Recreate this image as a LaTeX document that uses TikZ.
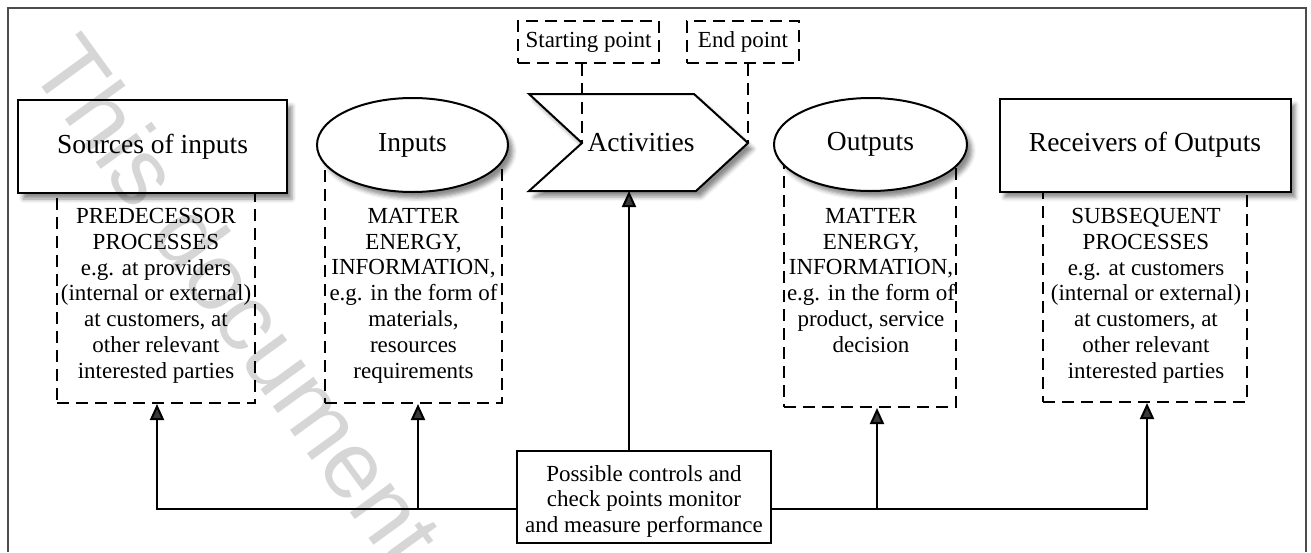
\documentclass[tikz,border=0pt]{standalone}
\usepackage{fontspec}
\setmainfont{Liberation Serif}
\newfontfamily\wmfont{Liberation Sans}
\usetikzlibrary{shapes.geometric,arrows.meta,shadows.blur}

\begin{document}
\begin{tikzpicture}[x=1pt,y=-1pt,
  every node/.style={inner sep=0pt, font=\fontsize{23}{25.8}\selectfont},
  bigfont/.style={font=\fontsize{27.5}{31}\selectfont},
  soft/.style={blur shadow={shadow xshift=5pt, shadow yshift=-6pt,
      shadow blur radius=4pt, shadow opacity=45}},
  solidbox/.style={draw, line width=2pt, fill=white, rectangle, bigfont, soft},
  oval/.style={draw, line width=2pt, fill=white, ellipse, bigfont, soft},
  dashbox/.style={draw, line width=2pt, dash pattern=on 12pt off 7pt, rectangle},
  tag/.style={dashbox, fill=white},
  listtext/.style={align=center, anchor=north},
  link/.style={line width=2pt},
  arr/.style={link, -{Triangle[length=16pt,width=14pt]}},
  guide/.style={line width=2pt, dash pattern=on 12pt off 7pt}
]
\useasboundingbox (0,0) rectangle (1311,552);

% outer frame (open at the bottom)
\draw[line width=1.4pt, black!70] (8,552) -- (8,8) -- (1306,8) -- (1306,552);

% dashed detail boxes (their tops sit under the shapes)
\node[dashbox, minimum width=198pt, minimum height=218pt] (srcd) at (156,294) {};
\node[dashbox, minimum width=177pt, minimum height=253pt] (inpd) at (413.5,276.5) {};
\node[dashbox, minimum width=172pt, minimum height=257pt] (outd) at (870,278.5) {};
\node[dashbox, minimum width=204pt, minimum height=217pt] (recd) at (1145,293.5) {};

% main shapes
\node[solidbox, minimum width=269pt, minimum height=93pt] (src) at (152.5,146.5) {Sources of inputs};
\node[oval, minimum width=191pt, minimum height=94pt] (inp) at (412.5,145) {Inputs};
\node[oval, minimum width=193pt, minimum height=93pt] (out) at (870.5,144.5) {Outputs};
\node[solidbox, minimum width=291pt, minimum height=93pt] (rec) at (1145,145) {Receivers of Outputs};

% activities chevron
\coordinate (notch) at (582,143);
\coordinate (tip) at (748,143);
\coordinate (actbot) at (629,191);
\path[draw, line width=2pt, fill=white, soft, line join=miter]
  (529,94) -- (694,94) -- (tip) -- (696,191) -- (529,191) -- (notch) -- cycle;
\node[bigfont] (act) at (641,143) {Activities};

% start / end markers
\node[tag, minimum width=141pt, minimum height=42pt] (startp) at (588.5,42) {Starting point};
\node[tag, minimum width=112pt, minimum height=42pt] (endp) at (743,42) {End point};
\draw[guide] (startp.south -| notch) -- (notch);
\draw[guide] (endp.south -| tip) -- (tip);

% texts of the detail boxes
\node[listtext] (srct) at (156,208) {PREDECESSOR\\PROCESSES\\e.g. at providers\\(internal or external)\\at customers, at\\other relevant\\interested parties};
\node[listtext] (inpt) at (413.5,208) {MATTER\\ENERGY,\\INFORMATION,\\e.g. in the form of\\materials,\\resources\\requirements};
\node[listtext] (outt) at (871,208) {MATTER\\ENERGY,\\INFORMATION,\\e.g. in the form of\\product, service\\decision};
\node[listtext] (rect) at (1146,208) {SUBSEQUENT\\PROCESSES\\e.g. at customers\\(internal or external)\\at customers, at\\other relevant\\interested parties};

% controls box and its connectors
\node[draw, line width=2pt, fill=white, minimum width=254pt, minimum height=92pt]
  (ctrl) at (644,497) {};
\node[align=center, anchor=north] (ctrlt) at (644,465) {Possible controls and\\check points monitor\\and measure performance};

\coordinate (j1) at (157,509);
\coordinate (j2) at (418,509);
\coordinate (j3) at (877,509);
\coordinate (j4) at (1147,509);
\draw[arr] (ctrl.west |- j1) -- (j1) -- (srcd.south -| j1);
\draw[arr] (j2) -- (inpd.south -| j2);
\draw[arr] (j3) -- (outd.south -| j3);
\draw[arr] (ctrl.east |- j4) -- (j4) -- (recd.south -| j4);
\draw[arr] (ctrl.north -| actbot) -- (actbot);

% watermark
\node[font=\wmfont\fontsize{95}{95}\selectfont, text=black, text opacity=0.16, rotate=-54]
  (wm) at (238,300) {This document};
\end{tikzpicture}
\end{document}
